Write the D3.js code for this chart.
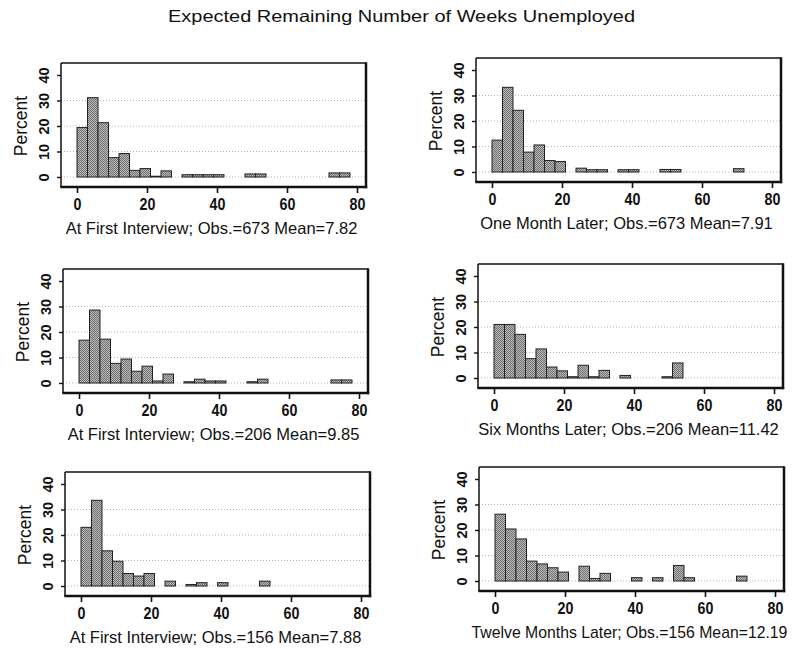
<!DOCTYPE html>
<html>
<head>
<meta charset="utf-8">
<script src="https://cdn.jsdelivr.net/npm/d3@7/dist/d3.min.js"></script>
<style>
  body { margin: 0; background: #fff; }
  svg { display: block; }
</style>
</head>
<body>
<svg id="chart" width="794" height="649"></svg>
<script>
// Histogram bins: width 3 weeks, 0 to 78
const binWidth = 3;
const binStarts = d3.range(0, 78, binWidth);

const xTicks = [0, 20, 40, 60, 80];
const yTicks = [0, 10, 20, 30, 40];
const gridTicks = [0, 10, 20, 30];

const chartTitle = "Expected Remaining Number of Weeks Unemployed";
const yLabel = "Percent";

const captions = [
  "At First Interview; Obs.=673 Mean=7.82",
  "One Month Later; Obs.=673 Mean=7.91",
  "At First Interview; Obs.=206 Mean=9.85",
  "Six Months Later; Obs.=206 Mean=11.42",
  "At First Interview; Obs.=156 Mean=7.88",
  "Twelve Months Later; Obs.=156 Mean=12.19"
];

// Percent of observations in each 3-week bin
const firstInterview673 = [19.4, 31.1, 21.3, 7.6, 9.2, 2.6, 3.3, 0.3, 2.4, 0, 0.9, 0.9, 0.9, 0.9, 0, 0, 1.2, 1.2, 0, 0, 0, 0, 0, 0, 1.6, 1.6];
const oneMonthLater673   = [12.5, 33.2, 24.2, 7.8, 10.6, 4.5, 4.1, 0, 1.5, 0.9, 0.9, 0, 0.9, 0.9, 0, 0, 1.0, 1.0, 0, 0, 0, 0, 0, 1.3, 0, 0];
const firstInterview206  = [16.8, 28.6, 17.2, 7.7, 9.4, 4.6, 6.6, 0.8, 3.5, 0, 0.5, 1.5, 0.8, 0.8, 0, 0, 0.5, 1.5, 0, 0, 0, 0, 0, 0, 1.2, 1.2];
const sixMonthsLater206  = [21.0, 21.0, 17.1, 7.6, 11.4, 4.3, 2.8, 0.5, 5.0, 0.5, 3.0, 0, 1.0, 0, 0, 0, 0.5, 5.9, 0, 0, 0, 0, 0, 0, 0, 0];
const firstInterview156  = [23.0, 33.6, 13.8, 9.7, 4.9, 3.9, 4.9, 0, 1.9, 0, 0.6, 1.3, 0, 1.3, 0, 0, 0, 1.9, 0, 0, 0, 0, 0, 0, 0, 0];
const twelveMonths156    = [26.2, 20.4, 16.5, 7.8, 6.7, 5.2, 3.5, 0, 5.8, 1.0, 3.0, 0, 0, 1.3, 0, 1.3, 0, 6.1, 1.3, 0, 0, 0, 0, 1.9, 0, 0];

const seriesList = [firstInterview673, oneMonthLater673, firstInterview206, sixMonthsLater206, firstInterview156, twelveMonths156];

// Frame placement of each small panel (plot box left/top)
const frames = [
  { left: 61, top: 63 },
  { left: 476, top: 58 },
  { left: 63, top: 269 },
  { left: 478, top: 264 },
  { left: 65, top: 472 },
  { left: 479, top: 467 }
];
const boxW = 305, boxH = 124;
const captionMaxWidth = 316;
const captionSize = 16.5;

const svg = d3.select("#chart");
const font = "'Liberation Sans', Arial, sans-serif";

// Stippled grey fill for the bars
const defs = svg.append("defs");
const pat = defs.append("pattern")
  .attr("id", "stipple").attr("width", 2).attr("height", 2)
  .attr("patternUnits", "userSpaceOnUse");
pat.append("rect").attr("width", 2).attr("height", 2).attr("fill", "#bababa");
pat.append("rect").attr("x", 0).attr("y", 0).attr("width", 1).attr("height", 1).attr("fill", "#707070");
pat.append("rect").attr("x", 1).attr("y", 1).attr("width", 1).attr("height", 1).attr("fill", "#707070");

svg.append("text")
  .attr("x", 401.5).attr("y", 22)
  .attr("text-anchor", "middle")
  .attr("font-family", font).attr("font-size", 16.5)
  .attr("textLength", 467).attr("lengthAdjust", "spacingAndGlyphs")
  .attr("fill", "#111")
  .text(chartTitle);

seriesList.forEach((vals, i) => {
  const f = frames[i];
  const L = f.left, T = f.top, R = L + boxW, B = T + boxH;
  const x = d3.scaleLinear().domain([0, 80]).range([L + 16, L + 296]);
  const y = d3.scaleLinear().domain([0, 40]).range([B - 10, T + 12]);
  const g = svg.append("g");

  // dotted grid lines
  g.selectAll(".grid").data(gridTicks).enter().append("line")
    .attr("x1", L).attr("x2", R)
    .attr("y1", d => y(d)).attr("y2", d => y(d))
    .attr("stroke", "#a0a0a0").attr("stroke-width", 0.8)
    .attr("stroke-dasharray", "1,2");

  // bars
  const bins = binStarts.map((s, k) => ({ s, v: vals[k] })).filter(d => d.v > 0);
  g.selectAll(".bar").data(bins).enter().append("rect")
    .attr("x", d => x(d.s))
    .attr("width", d => x(d.s + binWidth) - x(d.s))
    .attr("y", d => y(d.v))
    .attr("height", d => y(0) - y(d.v))
    .attr("fill", "url(#stipple)")
    .attr("stroke", "#222").attr("stroke-width", 1);

  // plot box: thin top/left, heavier right/bottom
  g.append("line").attr("x1", L).attr("x2", R).attr("y1", T).attr("y2", T)
    .attr("stroke", "#111").attr("stroke-width", 1.5);
  g.append("line").attr("x1", L).attr("x2", L).attr("y1", T).attr("y2", B)
    .attr("stroke", "#111").attr("stroke-width", 1.5);
  g.append("line").attr("x1", R).attr("x2", R).attr("y1", T - 0.7).attr("y2", B + 1.2)
    .attr("stroke", "#111").attr("stroke-width", 2.5);
  g.append("line").attr("x1", L - 0.7).attr("x2", R + 1.2).attr("y1", B).attr("y2", B)
    .attr("stroke", "#111").attr("stroke-width", 2.5);

  // x axis ticks and labels
  const xa = g.append("g").attr("transform", `translate(0,${B})`)
    .call(d3.axisBottom(x).tickValues(xTicks).tickSize(6).tickPadding(5).tickFormat(d3.format("d")));
  xa.select(".domain").remove();
  xa.selectAll(".tick line").attr("stroke", "#111").attr("stroke-width", 1.6);
  xa.selectAll(".tick text")
    .attr("font-family", font).attr("font-size", 17).attr("font-weight", "bold")
    .attr("fill", "#111")
    .attr("x", 0)
    .attr("dy", "0.71em")
    .attr("transform", "scale(0.84,1)");

  // y axis ticks and rotated labels
  const ya = g.append("g").attr("transform", `translate(${L},0)`)
    .call(d3.axisLeft(y).tickValues(yTicks).tickSize(4).tickPadding(6).tickFormat(d3.format("d")));
  ya.select(".domain").remove();
  ya.selectAll(".tick line").attr("stroke", "#111").attr("stroke-width", 1.4);
  ya.selectAll(".tick text")
    .attr("font-family", font).attr("font-size", 14.5).attr("font-weight", "bold")
    .attr("fill", "#111")
    .attr("text-anchor", "middle")
    .attr("x", null).attr("dy", null)
    .attr("transform", "translate(-12,0) rotate(-90)");

  // y-axis title
  g.append("text")
    .attr("transform", `translate(${L - 34},${(y(0) + y(40)) / 2}) rotate(-90)`)
    .attr("text-anchor", "middle")
    .attr("font-family", font).attr("font-size", 17.5)
    .attr("fill", "#111")
    .text(yLabel);

  // caption under the x axis; long captions get a slightly smaller size
  const cap = g.append("text")
    .attr("x", (L + R) / 2 - 2).attr("y", B + 47)
    .attr("text-anchor", "middle")
    .attr("font-family", font).attr("font-size", captionSize)
    .attr("fill", "#111")
    .text(captions[i]);
  const w = cap.node().getComputedTextLength();
  if (w > captionMaxWidth) {
    cap.attr("font-size", captionSize * captionMaxWidth / w);
  }
});
</script>
</body>
</html>
